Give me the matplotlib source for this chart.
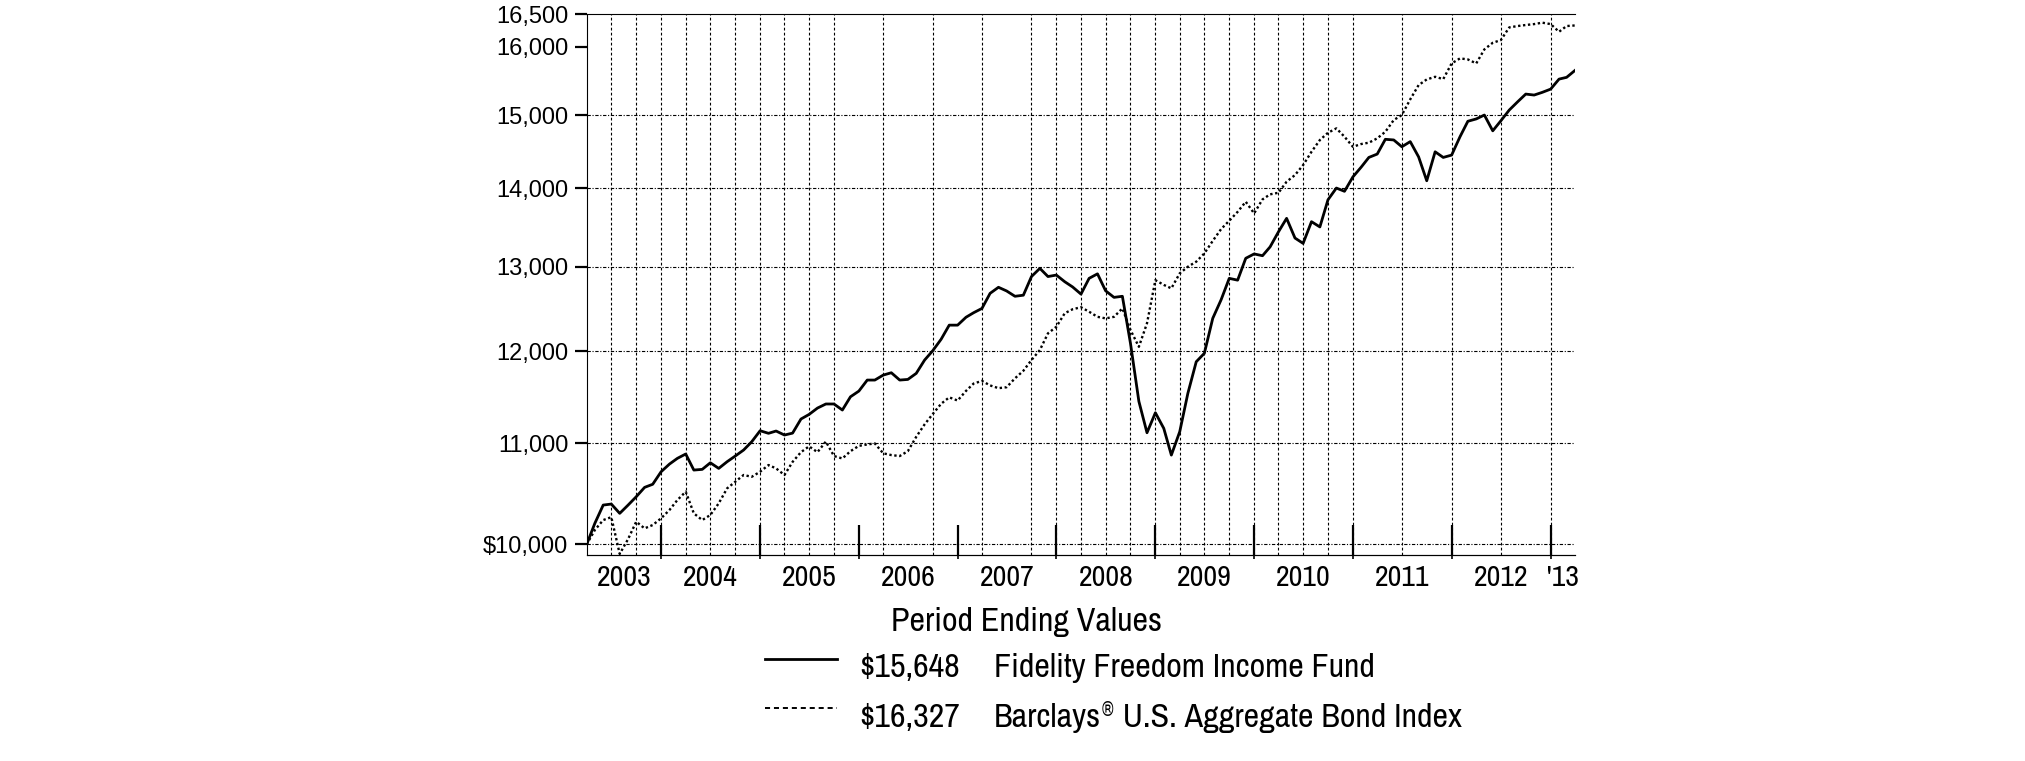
import matplotlib
matplotlib.use("Agg")
import matplotlib.pyplot as plt
import pandas as pd
from matplotlib import font_manager
from matplotlib.font_manager import FontProperties
from matplotlib.lines import Line2D
from matplotlib.ticker import NullLocator

# month-end values, Mar 2003 .. Mar 2013
fund = [
    10000, 10200, 10378, 10388, 10297, 10378, 10460, 10553, 10584, 10710,
    10788, 10846, 10891, 10727, 10734, 10801, 10744, 10812, 10870, 10932,
    11018, 11133, 11106, 11130, 11088, 11108, 11257, 11306, 11374, 11418,
    11418, 11353, 11496, 11558, 11679, 11679, 11734, 11760, 11679, 11686,
    11753, 11902, 12007, 12138, 12301, 12301, 12393, 12446, 12497, 12676,
    12749, 12705, 12641, 12654, 12879, 12979, 12879, 12897, 12816, 12753,
    12667, 12857, 12912, 12707, 12628, 12641, 12090, 11446, 11112, 11324,
    11158, 10880, 11123, 11533, 11883, 11978, 12380, 12600, 12857, 12835,
    13103, 13157, 13135, 13245, 13435, 13607, 13356, 13289, 13564, 13497,
    13848, 14002, 13959, 14150, 14283, 14413, 14459, 14662, 14653, 14559,
    14630, 14420, 14099, 14490, 14413, 14445, 14698, 14914, 14947, 15002,
    14780, 14921, 15073, 15191, 15302, 15288, 15327, 15374, 15520, 15546,
    15648,
]
bond_index = [
    10000, 10136, 10232, 10260, 9910, 10050, 10216, 10152, 10184, 10249,
    10330, 10427, 10510, 10297, 10232, 10281, 10395, 10543, 10609, 10677,
    10659, 10710, 10778, 10744, 10677, 10810, 10910, 10970, 10910, 11020,
    10870, 10845, 10920, 10975, 10990, 11000, 10898, 10880, 10870, 10920,
    11069, 11200, 11310, 11420, 11490, 11455, 11560, 11640, 11670, 11620,
    11590, 11600, 11698, 11782, 11902, 12015, 12206, 12282, 12440, 12487,
    12511, 12458, 12398, 12380, 12398, 12497, 12244, 12052, 12323, 12835,
    12778, 12736, 12918, 12999, 13061, 13164, 13320, 13470, 13576, 13691,
    13822, 13671, 13853, 13919, 13940, 14086, 14175, 14309, 14490, 14652,
    14753, 14814, 14698, 14559, 14597, 14615, 14675, 14767, 14931, 15002,
    15226, 15433, 15515, 15554, 15520, 15752, 15827, 15811, 15752, 15962,
    16062, 16103, 16297, 16318, 16334, 16348, 16370, 16348, 16230, 16318,
    16327,
]

y_ticks = [10000, 11000, 12000, 13000, 14000, 15000, 16000, 16500]
y_labels = ["$10,000", "11,000", "12,000", "13,000", "14,000", "15,000", "16,000", "16,500"]
h_grid = [10000, 11000, 12000, 13000, 14000, 15000]

year_ends = ["2003-12-31", "2004-12-31", "2005-12-31", "2006-12-31", "2007-12-31",
             "2008-12-31", "2009-12-31", "2010-12-31", "2011-12-31", "2012-12-31"]
year_labels = ["2003", "2004", "2005", "2006", "2007", "2008", "2009", "2010",
               "2011", "2012", "'13"]
v_grid = [
    "2003-06-30", "2003-09-30", "2003-12-31", "2004-03-31", "2004-06-30",
    "2004-09-30", "2004-12-31", "2005-03-31", "2005-06-30", "2005-09-30",
    "2006-03-31", "2006-09-30", "2007-03-31", "2007-09-30", "2007-12-31",
    "2008-03-31", "2008-06-30", "2008-09-30", "2008-12-31", "2009-03-31",
    "2009-06-30", "2009-09-30", "2009-12-31", "2010-03-31", "2010-06-30",
    "2010-09-30", "2010-12-31", "2011-06-30", "2011-12-31", "2012-06-30",
    "2012-12-31",
]

try:
    dates = pd.date_range("2003-03-31", "2013-03-31", freq="ME")
except ValueError:
    dates = pd.date_range("2003-03-31", "2013-03-31", freq="M")


def find_narrow_font():
    """Look for an installed condensed sans face (the original uses a narrow Helvetica)."""
    bad = ("bold", "light", "thin", "black", "medium", "italic", "oblique",
           "semicondensed", "extracondensed", "ultracondensed", "semibold", "heavy")
    best = None
    for f in font_manager.fontManager.ttflist:
        name = f.name.lower()
        base = f.fname.lower().rsplit("/", 1)[-1]
        if any(b in base for b in bad) or f.style != "normal":
            continue
        if "narrow" in name or "narrow" in base:
            rank = 0
        elif "condensed" in name or "condensed" in base:
            rank = 1 if "sans" in name else 2
            if "dejavu" in name:
                rank = 3
        else:
            continue
        if best is None or rank < best[0]:
            best = (rank, f.fname)
    return best[1] if best else None


narrow_path = find_narrow_font()
plt.rcParams["font.family"] = ["Liberation Sans", "DejaVu Sans"]


def narrow_font(size):
    if narrow_path:
        return FontProperties(fname=narrow_path, size=size)
    # no condensed face: shrink regular face so widths roughly match
    return FontProperties(family="Liberation Sans", size=size * 0.84)


W, H = 2025, 761


def fx(px):
    return px / W


def fy(py):
    return 1 - py / H


fig = plt.figure(figsize=(W / 100, H / 100), dpi=100)
ax = fig.add_axes([fx(586.7), fy(555.3), fx(1575) - fx(586.7), fy(14.3) - fy(555.3)])

ax.set_yscale("log")
ax.set_ylim(9897, 16500)
ax.set_xlim(dates[0], dates[-1])

for v in h_grid:
    ax.axhline(v, color="black", lw=0.8, linestyle=(0, (3, 1.5, 1, 1.5)), zorder=0.5)
for d in v_grid:
    ax.axvline(pd.Timestamp(d), color="black", lw=0.8, linestyle=(0, (2.5, 2)), zorder=0.5)

ax.plot(dates, fund, color="black", lw=2.0, zorder=3)
ax.plot(dates, bond_index, color="black", lw=1.7, linestyle=(0, (1, 1.1)), zorder=2)

# y axis
ax.set_yticks(y_ticks)
ax.set_yticklabels(y_labels)
ax.yaxis.set_minor_locator(NullLocator())
ax.tick_params(axis="y", which="major", direction="out", length=8.9, width=1.6,
               pad=4.3, labelsize=17, color="black")

# x axis: year boundary ticks, labels centred in each year
ends = [pd.Timestamp(d) for d in year_ends]
edges = [dates[0]] + ends + [dates[-1]]
mids = [a + (b - a) / 2 for a, b in zip(edges[:-1], edges[1:])]
ax.set_xticks(ends)
ax.set_xticklabels([""] * len(ends))
ax.set_xticks(mids, minor=True)
ax.set_xticklabels(year_labels, minor=True)
for lbl in ax.get_xticklabels(minor=True):
    lbl.set_fontproperties(narrow_font(21.5))
ax.tick_params(axis="x", which="major", direction="in", length=21.6, width=1.6)
ax.tick_params(axis="x", which="minor", length=0, pad=6)

sec = ax.secondary_xaxis("bottom")
sec.set_xticks(ends)
sec.tick_params(direction="out", length=3, width=1.2, labelbottom=False)
sec.spines["bottom"].set_linewidth(0.8)

ax.spines["right"].set_visible(False)
for s in ["left", "top", "bottom"]:
    ax.spines[s].set_linewidth(0.8)

# legend block below the chart
LEG = 24.5
fig.text(fx(891), fy(631), "Period Ending Values", fontproperties=narrow_font(LEG),
         va="baseline", ha="left")

fig.add_artist(Line2D([fx(765), fx(837)], [fy(659), fy(659)], color="black",
                      lw=2.0, transform=fig.transFigure))
fig.add_artist(Line2D([fx(765), fx(837)], [fy(708), fy(708)], color="black",
                      lw=1.4, linestyle=(0, (2.6, 2)), transform=fig.transFigure))

fig.text(fx(859), fy(677), "$15,648", fontproperties=narrow_font(LEG), va="baseline")
fig.text(fx(994), fy(677), "Fidelity Freedom Income Fund", fontproperties=narrow_font(LEG),
         va="baseline")
fig.text(fx(859), fy(727), "$16,327", fontproperties=narrow_font(LEG), va="baseline")

t1 = fig.text(fx(994), fy(727), "Barclays", fontproperties=narrow_font(LEG), va="baseline")
fig.canvas.draw()
r = fig.canvas.get_renderer()
e1 = t1.get_window_extent(r)
t2 = fig.text((e1.x1 + 1) / W, fy(716), "\u00ae", fontproperties=narrow_font(14),
              va="baseline")
e2 = t2.get_window_extent(r)
fig.text((e2.x1 + 1) / W, fy(727), " U.S. Aggregate Bond Index",
         fontproperties=narrow_font(LEG), va="baseline")

fig.savefig("out.png", dpi=100)
